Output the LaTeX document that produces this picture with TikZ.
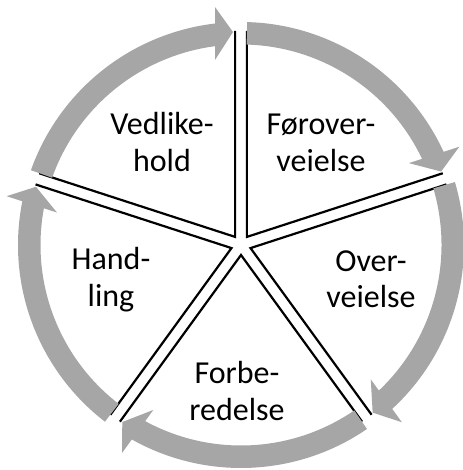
\documentclass[tikz,border=0pt]{standalone}
\usepackage{fontspec}
\setmainfont{Carlito}
\usetikzlibrary{calc}
\definecolor{arrowgray}{HTML}{A6A6A6}
\begin{document}
\begin{tikzpicture}[x=1pt,y=1pt,
  spoke/.style={line width=2.2pt, line join=miter, line cap=butt, black},
  cyclearrow/.style={fill=arrowgray, draw=none},
  txt/.style={font=\fontsize{32}{37}\selectfont, anchor=base, inner sep=0pt}]
\useasboundingbox (-241,-225) rectangle (221,245);
\coordinate (C) at (0,0);
% exploded wedges (only straight edges visible)
\foreach \b [count=\i] in {126,54,-18,-90,-162} {
  \coordinate (t\i) at (\b:10);
  \coordinate (e\i a) at ($(t\i)+(\b+36:206)$);
  \coordinate (e\i b) at ($(t\i)+(\b-36:206)$);
  \draw[spoke] (e\i a) -- (t\i) -- (e\i b);
}
% circular arrows
\foreach \r in {0,72,144,216,288} {
  \begin{scope}[rotate=-\r]
    \fill[cyclearrow] (160.4:223) arc[start angle=160.4, end angle=96.69, radius=223]
      -- (-26,238) -- (-8,213) -- (-26,185) -- (-26,198.8)
      arc[start angle=97.45, end angle=160.4, radius=200.5] -- cycle;
  \end{scope}
}
% labels
\node[txt] (l1a) at (-79,110) {Vedlike-};
\node[txt] (l1b) at (-79,73) {hold};
\node[txt] (l2a) at (80,110) {Førover-};
\node[txt] (l2b) at (80,73) {veielse};
\node[txt] (l3a) at (130,-27) {Over-};
\node[txt] (l3b) at (130,-63) {veielse};
\node[txt] (l4a) at (-4,-138) {Forbe-};
\node[txt] (l4b) at (-4,-175) {redelse};
\node[txt] (l5a) at (-130,-25) {Hand-};
\node[txt] (l5b) at (-130,-62) {ling};
\end{tikzpicture}
\end{document}
